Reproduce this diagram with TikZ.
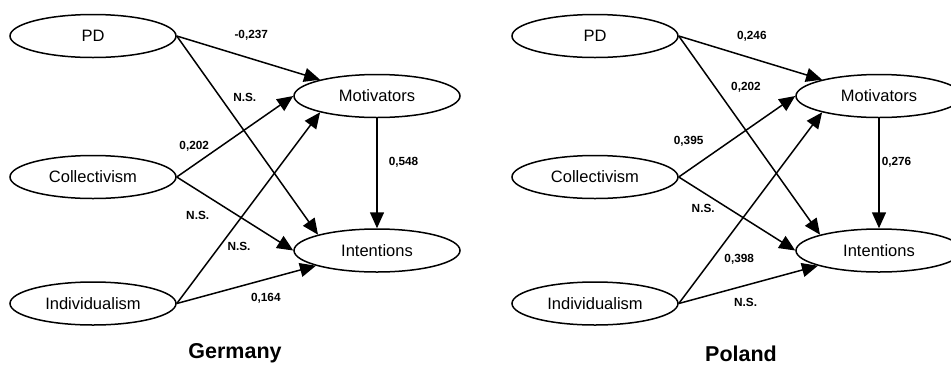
\documentclass[tikz,border=0pt]{standalone}
\usepackage{fontspec}
\setmainfont{Liberation Sans}
\usetikzlibrary{arrows.meta,shapes.geometric}

\begin{document}
\begin{tikzpicture}[x=1pt,y=-1pt,
        main/.style = {draw, ellipse, line width=1.5pt, minimum width=166pt, minimum height=43pt, inner sep=0pt, font=\fontsize{16.5}{18}\selectfont},
        lbl/.style = {inner sep=0pt, font=\bfseries\fontsize{11.8}{13}\selectfont},
        title/.style = {inner sep=0pt, font=\bfseries\fontsize{21.5}{24}\selectfont},
        >={Triangle[length=16pt,width=14pt]}, line width=1.5pt]
        \useasboundingbox (0,0) rectangle (951,365);
        % Germany
        \node[main] (pdG) at (93,36) {PD};
        \node[main] (colG) [below of=pdG, node distance=141pt] {Collectivism};
        \node[main] (indG) [below of=colG, node distance=126.5pt] {Individualism};
        \node[main] (motG) at (377,96) {Motivators};
        \node[main] (intG) [below of=motG, node distance=154.5pt] {Intentions};
        \draw[->] (pdG.east) -- node[lbl, pos=.52, above=18pt] {-0,237} (motG.164);
        \draw[->] (pdG.east) -- node[lbl, pos=.31, right=12pt] {N.S.} (intG.165);
        \draw[->] (colG.east) -- node[lbl, pos=.15, above=13pt] {0,202} (motG.west);
        \draw[->] (colG.east) -- node[lbl, pos=.18, below=20pt] {N.S.} (intG.west);
        \draw[->] (indG.east) -- node[lbl, pos=.3, right=7pt] {N.S.} (motG.196);
        \draw[->] (indG.east) -- node[lbl, pos=.64, below=13pt] {0,164} (intG.194);
        \draw[->] (motG) -- node[lbl, pos=.4, right=11pt] {0,548} (intG);
        \node[title] (germany) at (235,353) {Germany};
        % Poland
        \node[main] (pdP) at (595,36) {PD};
        \node[main] (colP) [below of=pdP, node distance=141pt] {Collectivism};
        \node[main] (indP) [below of=colP, node distance=126.5pt] {Individualism};
        \node[main] (motP) at (879,96) {Motivators};
        \node[main] (intP) [below of=motP, node distance=154.5pt] {Intentions};
        \draw[->] (pdP.east) -- node[lbl, pos=.51, above=16.5pt] {0,246} (motP.164);
        \draw[->] (pdP.east) -- node[lbl, pos=.26, right=15pt] {0,202} (intP.165);
        \draw[->] (colP.east) -- node[lbl, pos=.085, above=23pt] {0,395} (motP.west);
        \draw[->] (colP.east) -- node[lbl, pos=.21, below=11pt] {N.S.} (intP.west);
        \draw[->] (indP.east) -- node[lbl, pos=.23, right=12pt] {0,398} (motP.196);
        \draw[->] (indP.east) -- node[lbl, pos=.48, below=12pt] {N.S.} (intP.194);
        \draw[->] (motP) -- node[lbl, pos=.4, right=2pt] {0,276} (intP);
        \node[title] (poland) at (741,354) {Poland};
\end{tikzpicture}
\end{document}
